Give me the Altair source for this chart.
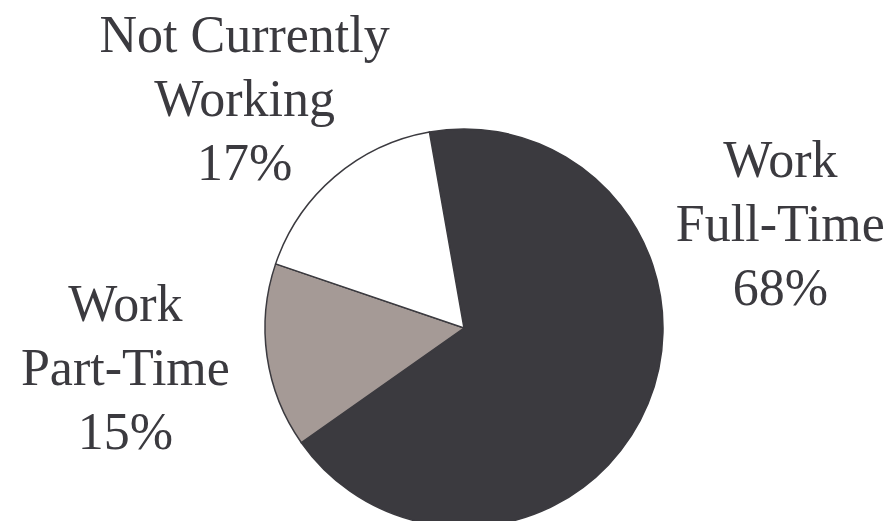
import math
import altair as alt
import pandas as pd

# ---- data ----
categories = ["Work Full-Time", "Work Part-Time", "Not Currently Working"]
shares = [68, 15, 17]
label_texts = ["Work\nFull-Time\n68%", "Work\nPart-Time\n15%", "Not Currently\nWorking\n17%"]
slice_order = [0, 1, 2]

# ---- styling ----
colors = ["#3b3a3f", "#a59a96", "#ffffff"]
ink = "#3b3a3f"
start = math.radians(-10)
theta_scale = alt.Scale(domain=[0, 100], range=[start, start + 2 * math.pi])
CX, CY, R = 456, 320, 199
LINE_H = 64
# label placement: (radius, angular offset in degrees from slice middle)
label_place = {
    "Work Full-Time": (333, -40.6),
    "Work Part-Time": (341, 1.4),
    "Not Currently Working": (317, -3.2),
}

df = pd.DataFrame({"category": categories, "share": shares,
                   "label": label_texts, "rank": slice_order})

base = alt.Chart(df).encode(x=alt.value(CX), y=alt.value(CY))

pie = base.mark_arc(radius=R, stroke=ink, strokeWidth=1.5).encode(
    theta=alt.Theta("share:Q", stack=True, scale=theta_scale),
    order=alt.Order("rank:Q"),
    color=alt.Color("category:N", scale=alt.Scale(domain=categories, range=colors), legend=None),
)

layers = [pie]
for cat in categories:
    r, off = label_place[cat]
    t = (
        base.transform_window(cum="sum(share)", sort=[alt.SortField("rank")])
        .transform_calculate(mid="datum.cum - datum.share / 2")
        .transform_filter(alt.datum.category == cat)
        .mark_text(radius=r, thetaOffset=math.radians(off), font="Liberation Serif",
                   fontSize=52, lineHeight=LINE_H, lineBreak="\n", dy=-63,
                   color=ink, align="center", baseline="middle")
        .encode(theta=alt.Theta("mid:Q", stack=False, scale=theta_scale), text="label:N")
    )
    layers.append(t)

chart = alt.layer(*layers).properties(
    width=876, height=513, autosize=alt.AutoSizeParams(type="none"), padding=0
).configure_view(stroke=None)

chart.save("out.html", embed_options={"renderer": "svg", "actions": False})
